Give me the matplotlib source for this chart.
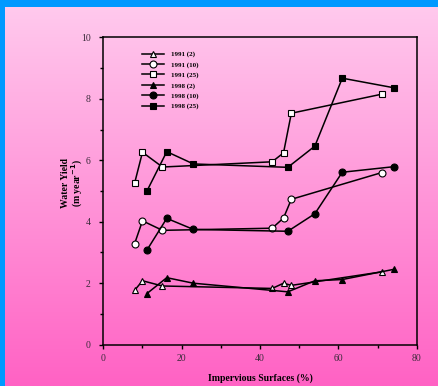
import numpy as np
import matplotlib
matplotlib.use("Agg")
import matplotlib.pyplot as plt
from matplotlib.patches import Rectangle
from matplotlib.ticker import MultipleLocator

plt.rcParams['font.family'] = ['Liberation Serif', 'DejaVu Serif']

# 不透水面率 (%) と年間水収量
x_1991 = [8.0, 10.0, 15.1, 43.1, 46.0, 48.0, 71.1]
x_1998 = [11.1, 16.2, 23.0, 47.1, 54.0, 61.0, 74.1]

y_1991_2 = [1.77, 2.08, 1.91, 1.83, 2.00, 1.93, 2.37]
y_1991_10 = [3.29, 4.03, 3.72, 3.79, 4.12, 4.73, 5.60]
y_1991_25 = [5.26, 6.26, 5.78, 5.95, 6.24, 7.53, 8.15]

y_1998_2 = [1.66, 2.18, 2.00, 1.72, 2.08, 2.12, 2.45]
y_1998_10 = [3.07, 4.11, 3.75, 3.69, 4.26, 5.61, 5.79]
y_1998_25 = [4.99, 6.28, 5.88, 5.77, 6.46, 8.67, 8.36]

labels = ['1991 (2)', '1991 (10)', '1991 (25)', '1998 (2)', '1998 (10)', '1998 (25)']
xticks = [0, 20, 40, 60, 80]
yticks = [0, 2, 4, 6, 8, 10]

fig = plt.figure(figsize=(4.39, 3.86), dpi=100)

# 背景のピンクのグラデーション
bg = fig.add_axes([0, 0, 1, 1], zorder=-2)
top_c = np.array([255, 203, 238]) / 255
bot_c = np.array([255, 98, 196]) / 255
t = np.linspace(0, 1, 256)[:, None]
grad = top_c[None, :] * (1 - t) + bot_c[None, :] * t
bg.imshow(grad[:, None, :], aspect='auto', extent=[0, 1, 0, 1])
bg.add_patch(Rectangle((0, 0), 5 / 439, 1, color='#0099ff', lw=0))
bg.add_patch(Rectangle((0, 1 - 7 / 386), 1, 7 / 386, color='#0099ff', lw=0))
bg.set_xlim(0, 1)
bg.set_ylim(0, 1)
bg.axis('off')

ax = fig.add_axes([103.3 / 439, 41.3 / 386, 313.4 / 439, 307.4 / 386])
ax.patch.set_alpha(0)

line_kw = dict(color='black', lw=1.1, mec='black', mew=0.8)
ax.plot(x_1991, y_1991_2, marker='^', ms=4.5, mfc='white', label=labels[0], **line_kw)
ax.plot(x_1991, y_1991_10, marker='o', ms=5, mfc='white', label=labels[1], **line_kw)
ax.plot(x_1991, y_1991_25, marker='s', ms=5, mfc='white', label=labels[2], **line_kw)
ax.plot(x_1998, y_1998_2, marker='^', ms=4.5, mfc='black', label=labels[3], **line_kw)
ax.plot(x_1998, y_1998_10, marker='o', ms=5, mfc='black', label=labels[4], **line_kw)
ax.plot(x_1998, y_1998_25, marker='s', ms=5, mfc='black', label=labels[5], **line_kw)

ax.set_xlim(0, 80)
ax.set_ylim(0, 10)
ax.set_xticks(xticks)
ax.set_yticks(yticks)
ax.xaxis.set_minor_locator(MultipleLocator(10))
ax.yaxis.set_minor_locator(MultipleLocator(1))
ax.tick_params(which='major', direction='out', length=3, width=1, labelsize=7,
               labelcolor='#3a2a3a')
ax.tick_params(axis='x', which='major', pad=4)
ax.tick_params(axis='y', which='major', pad=6)
ax.tick_params(which='minor', direction='out', length=2, width=1)
for s in ax.spines.values():
    s.set_linewidth(1.1)

ax.set_xlabel('Impervious Surfaces (%)', fontsize=7, fontweight='bold', labelpad=7)
ax.set_ylabel('Water Yield\n(m year$^{\\mathbf{-1}}$)', fontsize=7, fontweight='bold',
              linespacing=1.0)
ax.yaxis.set_label_coords(-0.058, 0.526)

leg = ax.legend(loc='upper left', bbox_to_anchor=(0.115, 0.964), frameon=False,
                prop={'size': 5, 'weight': 'bold'}, handlelength=3.2,
                labelspacing=0.6, handletextpad=1.0, borderaxespad=0)

fig.savefig('out.png', dpi=100)
